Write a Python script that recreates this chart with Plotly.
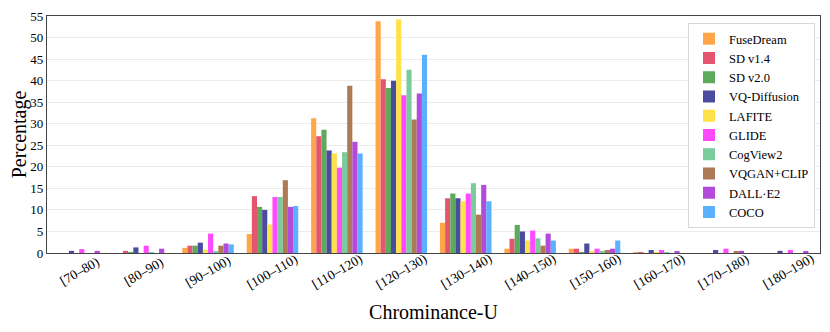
import plotly.graph_objects as go

categories = ["[70–80)", "[80–90)", "[90–100)", "[100–110)", "[110–120)", "[120–130)",
              "[130–140)", "[140–150)", "[150–160)", "[160–170)", "[170–180)", "[180–190)"]

fusedream   = [0.0, 0.0, 1.2, 4.4, 31.3, 53.8, 7.0, 1.0, 1.0, 0.2, 0.0, 0.0]
sd_v14      = [0.0, 0.5, 1.7, 13.2, 27.1, 40.3, 12.7, 3.3, 1.0, 0.2, 0.0, 0.0]
sd_v20      = [0.0, 0.1, 1.7, 10.7, 28.6, 38.3, 13.8, 6.5, 0.2, 0.0, 0.0, 0.0]
vq_diff     = [0.5, 1.3, 2.4, 10.0, 23.8, 40.0, 12.7, 5.0, 2.2, 0.7, 0.7, 0.5]
lafite      = [0.0, 0.0, 0.8, 6.6, 23.1, 54.2, 12.0, 2.9, 0.3, 0.1, 0.0, 0.0]
glide       = [0.9, 1.7, 4.5, 13.0, 19.8, 36.6, 13.8, 5.2, 1.0, 0.7, 1.0, 0.7]
cogview2    = [0.0, 0.2, 0.3, 13.0, 23.4, 42.5, 16.2, 3.4, 0.5, 0.2, 0.0, 0.0]
vqgan_clip  = [0.0, 0.0, 1.7, 16.9, 38.8, 31.0, 8.9, 1.7, 0.7, 0.0, 0.3, 0.0]
dalle2      = [0.5, 1.0, 2.2, 10.7, 25.8, 37.0, 15.8, 4.5, 1.0, 0.3, 0.5, 0.3]
coco        = [0.0, 0.0, 2.0, 10.9, 23.1, 46.0, 12.0, 2.9, 2.9, 0.0, 0.0, 0.0]

series_names = ["FuseDream", "SD v1.4", "SD v2.0", "VQ-Diffusion", "LAFITE",
                "GLIDE", "CogView2", "VQGAN+CLIP", "DALL·E2", "COCO"]
series_values = [fusedream, sd_v14, sd_v20, vq_diff, lafite, glide,
                 cogview2, vqgan_clip, dalle2, coco]
colors = ["#FFA64A", "#E4566F", "#5DAA5D", "#4B4BA0", "#FFE14A",
          "#FF4AFF", "#7CCB9D", "#AD7A55", "#B44ADB", "#5BB0FF"]

y_ticks = list(range(0, 56, 5))

font_family = "Liberation Serif, Times New Roman, serif"

fig = go.Figure()
for name, vals, col in zip(series_names, series_values, colors):
    fig.add_trace(go.Bar(
        x=categories, y=vals, name=name,
        marker=dict(color=col, line=dict(width=0)),
    ))

# centred, rotated category labels (rotation=30, centred under each group)
for cat in categories:
    fig.add_annotation(
        x=cat, xref="x", y=0, yref="paper",
        text=cat, showarrow=False, textangle=-30,
        xanchor="center", yanchor="middle", yshift=-18,
        font=dict(family=font_family, size=13.5, color="black"),
    )

fig.update_layout(
    width=830, height=332,
    margin=dict(l=39, r=18, t=8, b=87),
    barmode="group",
    bargap=0.2,
    bargroupgap=0.0,
    plot_bgcolor="white",
    paper_bgcolor="white",
    font=dict(family=font_family, color="black", size=13),
    legend=dict(
        x=0.9935, y=0.97, xanchor="right", yanchor="top",
        bgcolor="white", bordercolor="#D8D8D8", borderwidth=1,
        font=dict(family=font_family, size=12.5, color="black"),
        tracegroupgap=0, itemwidth=30,
    ),
    showlegend=True,
)

fig.update_xaxes(
    showticklabels=False,
    title=dict(text="Chrominance-U", font=dict(family=font_family, size=20), standoff=51),
    showline=True, linecolor="#444444", linewidth=1.2, mirror=True,
    showgrid=False, ticks="", ticklen=0, automargin=False,
)
fig.update_yaxes(
    range=[0, 55],
    tickvals=y_ticks,
    ticklabeloverflow="allow",
    tickfont=dict(family=font_family, size=13),
    title=dict(text="Percentage", font=dict(family=font_family, size=20), standoff=2),
    showline=True, linecolor="#444444", linewidth=1.2, mirror=True,
    showgrid=True, gridcolor="#EBEBEB", gridwidth=1,
    zeroline=False, ticks="", ticklen=0, automargin=False,
)

fig.write_html("out.html")
